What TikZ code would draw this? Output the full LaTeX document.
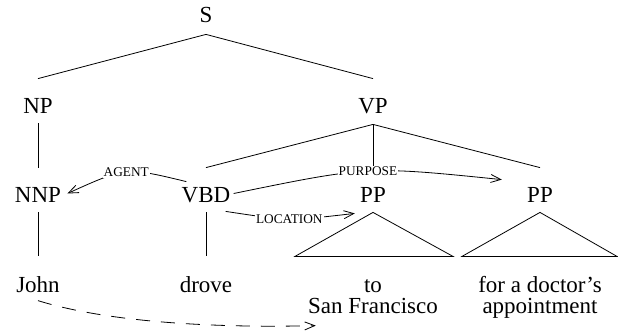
\documentclass[tikz,border=0pt]{standalone}
\usepackage{fontspec}
\setmainfont{Liberation Serif}
\usetikzlibrary{arrows.meta,calc}
\begin{document}
\begin{tikzpicture}[x=1pt,y=1pt,
  line width=0.8pt,
  cat/.style={inner sep=0pt, anchor=base, text height=15pt, text depth=0pt,
    font=\fontsize{23}{21}\selectfont},
  word/.style={inner sep=0pt, anchor=base, align=center,
    font=\fontsize{23}{21}\selectfont},
  rel/.style={fill=white, inner sep=1pt, text height=9pt, text depth=0pt,
    font=\fontsize{13.3}{15}\selectfont},
  arc/.style={-{Straight Barb[length=10pt,width=8pt]}},
]
\useasboundingbox (0,0) rectangle (618,-332);

% categories
\node[cat] (s)   at (206,-23)  {S};
\node[cat] (np)  at (38,-113)  {NP};
\node[cat] (vp)  at (373,-113) {VP};
\node[cat] (nnp) at (38,-202)  {NNP};
\node[cat] (vbd) at (206,-202) {VBD};
\node[cat] (pp1) at (373,-202) {PP};
\node[cat] (pp2) at (540,-202) {PP};

% words (two-line nodes sit on the baseline of their last line)
\node[word] (john)  at (38,-292)  {John};
\node[word] (drove) at (206,-292) {drove};
\node[word] (sf)    at (373,-313) {to\\San Francisco};
\node[word] (appt)  at (540,-313) {for a doctor's\\appointment};

% branches
\draw ([yshift=-11pt]s.south) -- ([yshift=19pt]np.north);
\draw ([yshift=-11pt]s.south) -- ([yshift=19pt]vp.north);
\draw ([yshift=-10pt]np.south) -- ([yshift=19pt]nnp.north);
\draw ([yshift=-11pt]vp.south) -- ([yshift=19pt]vbd.north);
\draw ([yshift=-11pt]vp.south) -- ([yshift=19pt]pp1.north);
\draw ([yshift=-11pt]vp.south) -- ([yshift=19pt]pp2.north);
\draw ([yshift=-10pt]nnp.south) -- ([yshift=20pt]john.north);
\draw ([yshift=-10pt]vbd.south) -- ([yshift=20pt]drove.north);

% collapsed phrases
\draw[line join=miter] ([yshift=-10pt]pp1.south) -- ($(pp1.south)+(-78,-54)$)
  -- ($(pp1.south)+(80,-54)$) -- cycle;
\draw[line join=miter] ([yshift=-10pt]pp2.south) -- ($(pp2.south)+(-78,-54)$)
  -- ($(pp2.south)+(77,-54)$) -- cycle;

% semantic relations
\draw[arc] ([shift={(5pt,5pt)}]vbd.north west) .. controls (126,-167) ..
  ([shift={(6pt,1pt)}]nnp.east) node[rel,midway] {AGENT};
\draw[arc] ([shift={(3pt,1pt)}]vbd.east) .. controls (368,-166) ..
  ([shift={(-25pt,7pt)}]pp2.north west) node[rel,midway] {PURPOSE};
\draw[arc] ([shift={(-5pt,-9pt)}]vbd.south east) .. controls (289,-221) ..
  ([shift={(-5pt,-11pt)}]pp1.south west) node[rel,midway] {LOCATION};
\draw[arc, dash pattern=on 14pt off 11pt] ([yshift=-8pt]john.south)
  .. controls (110,-323) and (220,-328) .. ([shift={(8pt,-12pt)}]sf.south west);
\end{tikzpicture}
\end{document}
